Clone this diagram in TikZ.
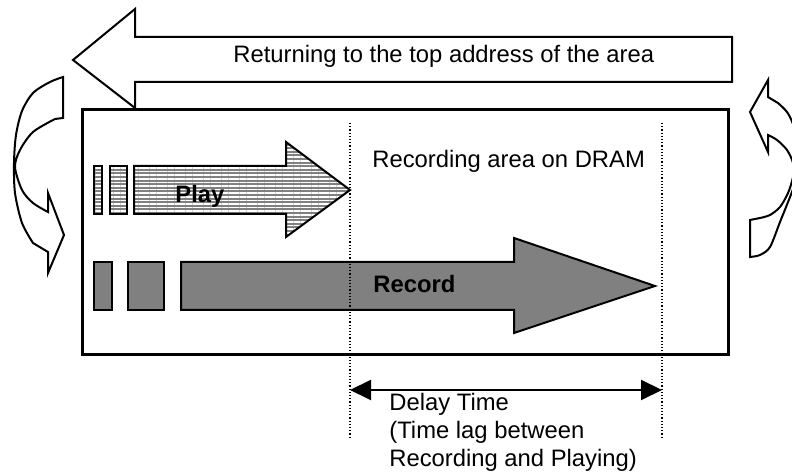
\documentclass[tikz,border=0pt]{standalone}
\usepackage{fontspec}
\setmainfont{Liberation Sans}
\usepackage{xcolor}
\definecolor{bargray}{HTML}{808080}
\usetikzlibrary{arrows.meta, patterns.meta}

\begin{document}
\begin{tikzpicture}[x=0.5pt, y=-0.5pt,
    lbl/.style={font=\fontsize{11.9pt}{14pt}\selectfont, inner sep=0pt, anchor=base west},
    boldlbl/.style={lbl, font=\fontsize{11.9pt}{14pt}\selectfont\bfseries},
    outline/.style={draw=black, line width=1pt, line join=miter},
    striped/.style={preaction={fill=bargray}, pattern={Lines[angle=0, distance=1.8pt, line width=0.75pt]}, pattern color=white, outline},
    solid gray/.style={fill=bargray, outline},
    guide/.style={densely dotted, line width=0.6pt},
    bend arrow/.style={outline, fill=white}]
    \useasboundingbox (0,0) rectangle (792,474);
    % return arrow
    \draw[bend arrow] (73,60) -- (135,9) -- (135,37) -- (732,37) -- (732,82) -- (135,82) -- (135,108) -- cycle;
    \node[lbl] (ret) at (233,63) {Returning to the top address of the area};
    % area
    \draw[line width=1.5pt] (82,110) rectangle (728,355);
    \node[lbl] (area) at (372,168) {Recording area on DRAM};
    % left curved arrow
    \draw[bend arrow] (63,77) -- (63,118) -- plot[smooth] coordinates {(55,119) (33,132) (20,150) (15,167) (22,190) (33,203) (48,212)}
        -- (48,193) -- (64,235) -- (48,273) -- (48,252)
        -- plot[smooth] coordinates {(33,243) (22,223) (15,193) (14,163) (16,135) (22,111) (33,93) (50,82) (63,77)} -- cycle;
    % right curved arrow
    \begin{scope}
        \clip (0,0) rectangle (792,474);
        \draw[bend arrow] (768,97) -- plot[smooth] coordinates {(778,103) (787,112) (793,124) (798,142) (799,162) (796,180) (790,197) (780,222) (770,247) (760,255) (750,257)}
            -- (750,220) -- plot[smooth] coordinates {(760,218) (770,215) (780,207) (788,193) (793,177) (793,163) (787,150) (777,140) (768,135)}
            -- (768,152) -- (750,112) -- (768,80) -- cycle;
    \end{scope}
    % play
    \foreach \a/\b in {94/102, 110/127} {
        \draw[striped] (\a,166) rectangle (\b,214);
    }
    \draw[striped] (134,166) -- (286,166) -- (286,142) -- (350,190) -- (286,237) -- (286,214) -- (134,214) -- cycle;
    \node[boldlbl] (play) at (175,203) {Play};
    % record
    \foreach \a/\b in {94/112, 128/164} {
        \draw[solid gray] (\a,262) rectangle (\b,310);
    }
    \draw[solid gray] (181,262) -- (514,262) -- (514,238) -- (655,286) -- (514,333) -- (514,310) -- (181,310) -- cycle;
    \node[boldlbl] (rec) at (373,293) {Record};
    % delay
    \coordinate (playtop) at (350,123);
    \coordinate (playbot) at (350,437);
    \coordinate (rectop) at (662,123);
    \coordinate (recbot) at (662,437);
    \draw[guide] (playtop) -- (playbot);
    \draw[guide] (rectop) -- (recbot);
    \coordinate (dl) at (350,390);
    \coordinate (dr) at (662,390);
    \draw[line width=1pt, {Triangle[length=10.5pt, width=10pt]}-{Triangle[length=10.5pt, width=10pt]}] (dl) -- (dr);
    \foreach \i/\t in {0/{Delay Time}, 1/{(Time lag between}, 2/{Recording and Playing)}} {
        \node[lbl] (delay\i) at (389, 411+28*\i) {\t};
    }
\end{tikzpicture}
\end{document}
